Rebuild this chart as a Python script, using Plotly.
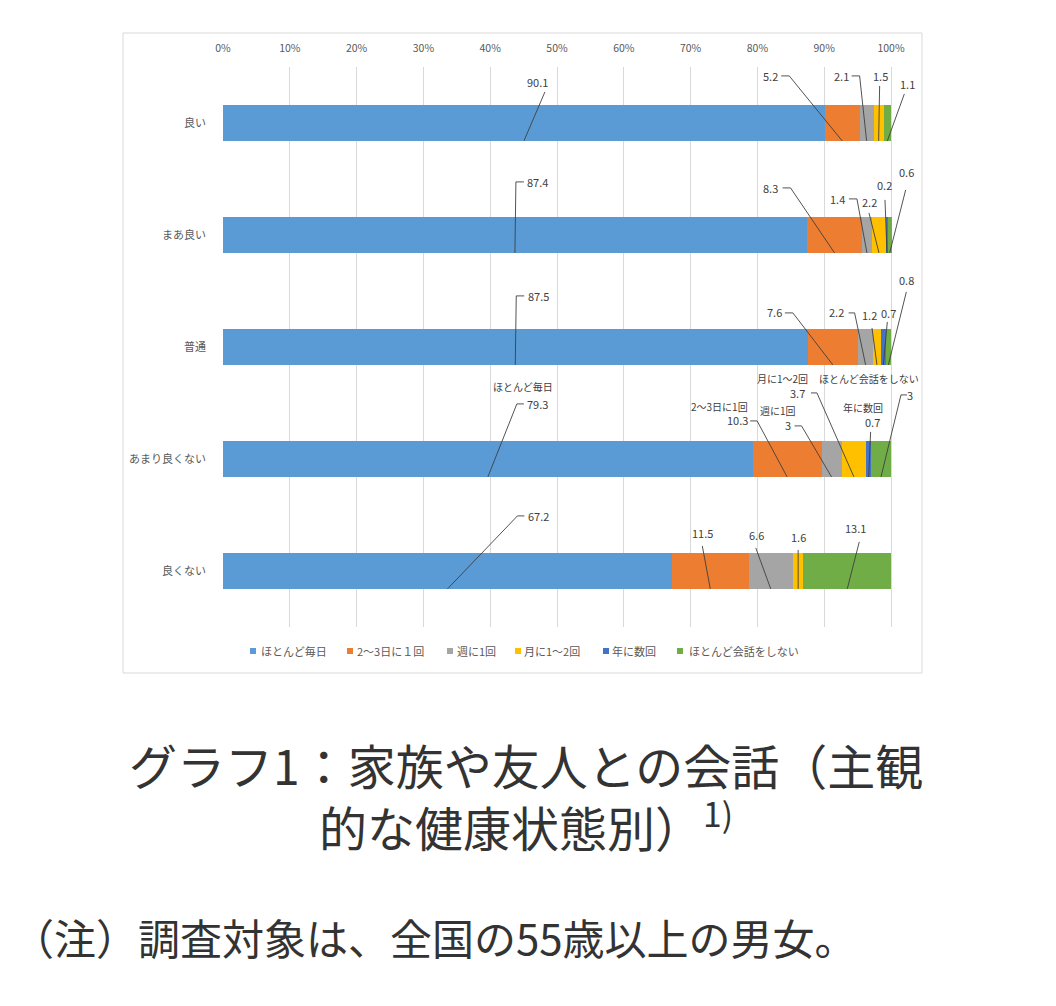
import plotly.graph_objects as go

categories = ["良い", "まあ良い", "普通", "あまり良くない", "良くない"]
series_names = ["ほとんど毎日", "2～3日に１回", "週に1回", "月に1～2回", "年に数回", "ほとんど会話をしない"]
series_colors = ["#5B9BD5", "#ED7D31", "#A5A5A5", "#FFC000", "#4472C4", "#70AD47"]

everyday = [90.1, 87.4, 87.5, 79.3, 67.2]
every_2_3_days = [5.2, 8.3, 7.6, 10.3, 11.5]
weekly = [2.1, 1.4, 2.2, 3.0, 6.6]
monthly = [1.5, 2.2, 1.2, 3.7, 1.6]
yearly = [0.0, 0.2, 0.7, 0.7, 0.0]
rarely = [1.1, 0.6, 0.8, 3.0, 13.1]

value_labels = [
    ["90.1", "5.2", "2.1", "1.5", "", "1.1"],
    ["87.4", "8.3", "1.4", "2.2", "0.2", "0.6"],
    ["87.5", "7.6", "2.2", "1.2", "0.7", "0.8"],
    ["79.3", "10.3", "3", "3.7", "0.7", "3"],
    ["67.2", "11.5", "6.6", "1.6", "", "13.1"],
]
row3_series_labels = ["ほとんど毎日", "2～3日に1回", "週に1回", "月に1～2回", "年に数回", "ほとんど会話をしない"]

x_ticks = list(range(0, 101, 10))
x_tick_text = [f"{v}%" for v in x_ticks]

series_values = [everyday, every_2_3_days, weekly, monthly, yearly, rarely]

# label placement (pixel offsets from the bar-bottom point of each segment)
# (label dx, label dy, bend dx, bend dy, tick length)
label_pos = [
    [(14, -59, 21, -49, 0), (-72, -65, -53, -65, -8), (-25, -65, -7, -65, -8), (2, -65, 1, -55, 0), None, (20, -57, 17, -47, 0)],
    [(23, -71, 1, -71, 8), (-64, -65, -44, -65, -8), (-29, -54, -10, -54, -8), (-9, -51, -10, -40, 0), (-2, -68, -2, -53, 0), (17, -81, 16, -63, 0)],
    [(23, -69, 1, -69, 8), (-58, -53, -40, -52, -8), (-29, -53, -11, -52, -6), (-7, -50, -5, -37, 0), (5, -52, 4, -43, 0), (18, -85, 18, -73, 0)],
    [(50, -73, 29, -73, 7), (-50, -57, -30, -56, -7), (-44, -52, -30, -51, -7), (-56, -84, -37, -84, -6), (4, -55, 2, -45, 0), (29, -82, 20, -82, 6)],
    [(91, -73, 70, -73, 7), (-8, -56, -8, -43, 0), (-14, -54, -15, -41, 0), (0, -52, 0, -39, 0), None, (8, -61, 12, -47, 0)],
]
row3_name_pos = [(35, -90), (-68, -70), (-54, -66), (-71, -98), (-6, -69), (-12, -98)]

# manual legend layout (pixels): square centre x, text start x
legend_square_x = [253, 350, 450, 518, 606, 680]
legend_text_x = [259, 355, 455, 522, 610, 687]
LEGEND_Y = 651

W, H = 1056, 1006
BAR_W = 0.32
ypos = list(range(len(categories)))

fig = go.Figure()
for name, vals, col in zip(series_names, series_values, series_colors):
    fig.add_trace(go.Bar(
        name=name, x=vals, y=ypos, orientation="h", width=BAR_W,
        marker=dict(color=col, line=dict(width=0)), hoverinfo="skip", showlegend=False,
    ))

txt_font = dict(family="Noto Sans CJK JP", size=11, color="#404040")
name_font = dict(family="Noto Sans CJK JP", size=10, color="#404040")
ann = []
shapes = []
for r in range(len(categories)):
    cum = 0.0
    for s in range(len(series_values)):
        v = series_values[s][r]
        mid = cum + v / 2
        cum += v
        pos = label_pos[r][s]
        if pos is None or value_labels[r][s] == "":
            continue
        dx, dy, bx, by, tk = pos
        tip_y = r + BAR_W / 2
        ann.append(dict(x=mid, y=tip_y, xref="x", yref="y", text=value_labels[r][s],
                        showarrow=False, xshift=dx, yshift=-dy, font=txt_font,
                        xanchor="center", yanchor="middle"))
        if r == 3:
            nx, ny = row3_name_pos[s]
            ann.append(dict(x=mid, y=tip_y, xref="x", yref="y", text=row3_series_labels[s],
                            showarrow=False, xshift=nx, yshift=-ny, font=name_font,
                            xanchor="center", yanchor="middle"))
        path = f"M{bx + tk},{-by} L{bx},{-by} L0,0" if tk else f"M{bx},{-by} L0,0"
        shapes.append(dict(type="path", xref="x", yref="y", xsizemode="pixel", ysizemode="pixel",
                           xanchor=mid, yanchor=tip_y, path=path,
                           line=dict(color="#404040", width=0.9), layer="above"))

# legend (drawn manually to match the compact Excel-style legend)
for name, col, sx, tx in zip(series_names, series_colors, legend_square_x, legend_text_x):
    shapes.append(dict(type="rect", xref="paper", yref="paper",
                       x0=(sx - 3) / W, x1=(sx + 3) / W,
                       y0=1 - (LEGEND_Y + 3) / H, y1=1 - (LEGEND_Y - 3) / H,
                       fillcolor=col, line=dict(width=0)))
    ann.append(dict(x=tx / W, y=1 - LEGEND_Y / H, xref="paper", yref="paper", text=name,
                    showarrow=False, xanchor="left", yanchor="middle",
                    font=dict(family="Noto Sans CJK JP", size=11, color="#595959")))

# chart frame
shapes.append(dict(type="rect", xref="paper", yref="paper", x0=123 / W, x1=922 / W,
                   y0=1 - 673 / H, y1=1 - 33 / H, line=dict(color="#D9D9D9", width=1),
                   layer="below"))

title_font = dict(family="Noto Sans CJK JP", size=48, color="#333333")
ann.append(dict(x=526 / W, y=1 - 727 / H, xref="paper", yref="paper",
                text="グラフ1：家族や友人との会話（主観<br>的な健康状態別）<sup>1)</sup>",
                showarrow=False, font=title_font, xanchor="center", yanchor="top",
                align="center"))
ann.append(dict(x=10 / W, y=1 - 936 / H, xref="paper", yref="paper",
                text="（注）調査対象は、全国の55歳以上の男女。", showarrow=False,
                font=dict(family="Noto Sans CJK JP", size=42, color="#333333"),
                xanchor="left", yanchor="middle"))

PX_PER_PCT = (891 - 223) / 100
X_MAX = 104

fig.update_layout(
    width=W, height=H, barmode="stack",
    margin=dict(l=0, r=0, t=0, b=0, autoexpand=False),
    paper_bgcolor="white", plot_bgcolor="white",
    font=dict(family="Noto Sans CJK JP", color="#595959"),
    xaxis=dict(domain=[223 / W, (223 + PX_PER_PCT * X_MAX) / W], range=[0, X_MAX], side="top",
               tickvals=x_ticks, ticktext=x_tick_text, showgrid=True, gridcolor="#D9D9D9",
               gridwidth=1, zeroline=False, showline=False, ticks="", automargin=False,
               tickfont=dict(size=10.5, color="#595959"), ticklabelstandoff=12, fixedrange=True),
    yaxis=dict(domain=[1 - 627 / H, 1 - 67 / H], range=[4.5, -0.5],
               tickvals=ypos, ticktext=categories, showgrid=False, zeroline=False,
               showline=False, ticks="", tickfont=dict(size=11, color="#595959"),
               ticklabelstandoff=16, automargin=False, fixedrange=True),
    annotations=ann, shapes=shapes,
    showlegend=False,
)

fig.write_html(
    "out.html",
    config={"displayModeBar": False},
    post_script="document.body.style.margin='0';document.body.style.padding='0';"
                "document.body.style.overflow='hidden';",
)
